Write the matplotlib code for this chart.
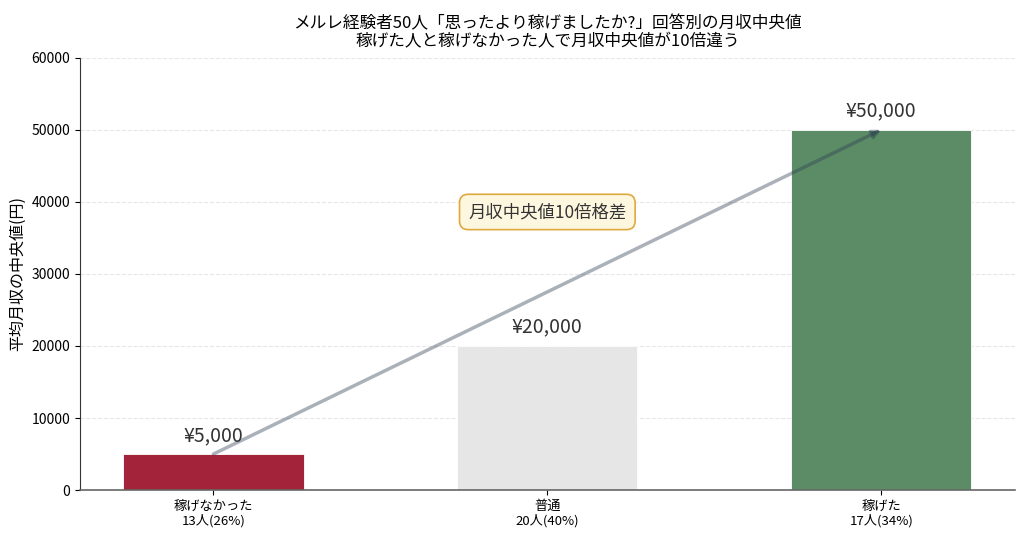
import matplotlib
matplotlib.use("Agg")
import matplotlib.pyplot as plt

plt.rcParams['font.family'] = ['Noto Sans CJK JP', 'DejaVu Sans']

categories = ["稼げなかった\n13人(26%)", "普通\n20人(40%)", "稼げた\n17人(34%)"]
medians = [5000, 20000, 50000]
value_labels = ["¥5,000", "¥20,000", "¥50,000"]
colors = ["#a3233b", "#e6e6e6", "#5b8c66"]

fig, ax = plt.subplots(figsize=(10.24, 5.35), dpi=100)
fig.subplots_adjust(left=0.078, right=0.991, top=0.892, bottom=0.084)

x = list(range(len(categories)))
ax.bar(x, medians, width=0.54, color=colors, edgecolor='white', linewidth=0.6, zorder=2)
for xi, v, lab in zip(x, medians, value_labels):
    ax.text(xi, v + 2600, lab, ha='center', va='center', fontsize=14, color='#333333')

ax.annotate("", xy=(2, medians[2]), xytext=(0, medians[0]),
            arrowprops=dict(arrowstyle='-|>', color='#2c3e50', alpha=0.4, lw=2.5,
                            shrinkA=0, shrinkB=0, mutation_scale=12), zorder=3)
ax.text(1, 38600, "月収中央値10倍格差", ha='center', va='center', fontsize=12.5, color='#333333',
        bbox=dict(boxstyle='round,pad=0.5', fc='#fef7e0', ec='#e0a940', lw=1.2), zorder=4)

ax.set_xlim(-0.4, 2.4)
ax.set_ylim(0, 60000)
ax.set_yticks([0, 10000, 20000, 30000, 40000, 50000, 60000])
ax.set_xticks(x)
ax.set_xticklabels(categories, fontsize=9.5, linespacing=1.1)
ax.tick_params(axis='y', labelsize=10)
ax.set_ylabel("平均月収の中央値(円)", fontsize=11.5)
ax.set_title("メルレ経験者50人「思ったより稼げましたか?」回答別の月収中央値\n稼げた人と稼げなかった人で月収中央値が10倍違う",
             fontsize=12, linespacing=1.1, pad=8)
ax.grid(axis='y', linestyle='--', color='#dddddd', alpha=0.7, zorder=0)
ax.set_axisbelow(True)
for s in ['top', 'right']:
    ax.spines[s].set_visible(False)
ax.spines['left'].set_color('#333333')
ax.spines['bottom'].set_color('#666666')
ax.spines['bottom'].set_linewidth(1.2)

fig.savefig("out.png", dpi=100)
